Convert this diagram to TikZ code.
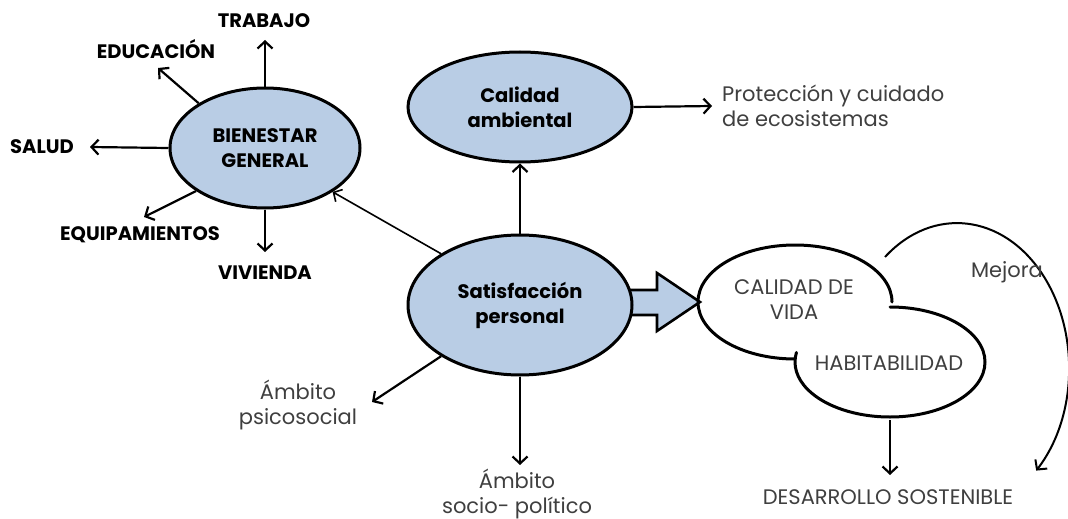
\documentclass[tikz,border=0pt]{standalone}
\usepackage{fontspec}
\setmainfont{Poppins}
\usetikzlibrary{arrows.meta,shapes.geometric}
\definecolor{ellblue}{HTML}{B9CDE5}
\definecolor{txtgray}{HTML}{3F3F3F}
\begin{document}
\begin{tikzpicture}[x=1pt,y=1pt,
  ell/.style={ellipse, draw, line width=3pt, fill=ellblue, inner sep=0pt, align=center, font=\bfseries\fontsize{19.5}{25}\selectfont},
  lbl/.style={inner sep=0pt, align=center, font=\bfseries\fontsize{19.5}{24}\selectfont},
  gtxt/.style={inner sep=0pt, align=center, text=txtgray, font=\fontsize{21}{25}\selectfont},
  arr/.style={line width=2.2pt, -{Straight Barb[length=7pt,width=15pt]}},
  thinarr/.style={line width=1.6pt, -{Straight Barb[length=6.5pt,width=14pt]}},
  cloudline/.style={line width=3pt, line cap=round}
]
\useasboundingbox (0,0) rectangle (1068,-519);
\fill[white] (0,0) rectangle (1068,-519);

% block arrow (drawn first so the ellipse covers its base)
\draw[fill=ellblue, line width=2.6pt, line join=miter]
  (610,-290) -- (657,-290) -- (657,-273) -- (700,-302) -- (657,-331) -- (657,-315) -- (610,-315) -- cycle;

% main ellipses
\node[ell, minimum width=190pt, minimum height=120pt] (bg) at (265,-148) {BIENESTAR\\GENERAL};
\node[ell, minimum width=224pt, minimum height=110pt] (ca) at (520,-107) {Calidad\\ambiental};
\node[ell, minimum width=224pt, minimum height=140pt] (sp) at (520,-305) {Satisfacción\\personal};

% labels around Bienestar general
\node[lbl] (trab) at (264,-21) {TRABAJO};
\node[lbl] (edu) at (156,-49) {EDUCACIÓN};
\node[lbl] (sal) at (42,-147) {SALUD};
\node[lbl] (equ) at (140,-235) {EQUIPAMIENTOS};
\node[lbl] (viv) at (265,-273) {VIVIENDA};

\coordinate (tTrab) at (265,-40);
\coordinate (tEdu) at (158,-68);
\coordinate (tSal) at (90,-147);
\coordinate (tEqu) at (144,-217);
\coordinate (tViv) at (265,-252);

\draw[arr] (bg.90) -- (tTrab);
\draw[arr] (bg.146) -- (tEdu);
\draw[arr] (bg.180) -- (tSal);
\draw[arr] (bg.212) -- (tEqu);
\draw[arr] (bg.270) -- (tViv);

% from satisfaccion personal
\draw[arr] (sp.90) -- (ca.270);
\draw[thinarr] (sp.147) -- (bg.-33);

\node[gtxt] (psi) at (298,-405) {Ámbito\\psicosocial};
\node[gtxt] (soc) at (517,-494) {Ámbito\\socio- político};
\coordinate (tPsi) at (372,-402);
\coordinate (tSoc) at (520,-465);
\draw[arr] (sp.213) -- (tPsi);
\draw[arr] (sp.270) -- (tSoc);

% calidad ambiental -> proteccion
\node[gtxt, align=left, anchor=west] (pro) at (722,-105.5) {Protección y cuidado\\de ecosistemas};
\coordinate (tPro) at (712,-106);
\draw[arr] (ca.0) -- (tPro);

% cloud: calidad de vida / habitabilidad
\draw[cloudline] (892,-302) arc[start angle=0, end angle=270, x radius=97, y radius=57];
\draw[cloudline] (890,-307) arc[start angle=90, end angle=-190, x radius=95, y radius=55];
\node[gtxt] (cdv) at (794,-300) {CALIDAD DE\\VIDA};
\node[gtxt] (hab) at (889,-363) {HABITABILIDAD};
\node[gtxt] (des) at (888,-497) {DESARROLLO SOSTENIBLE};
\coordinate (hbot) at (890,-420);
\coordinate (tDes) at (890,-475);
\draw[arr] (hbot) -- (tDes);

% mejora loop
\draw[line width=2pt, -{Straight Barb[length=7pt,width=15pt]}]
  (885,-257) arc[start angle=130, end angle=-45, x radius=112, y radius=145];
\node[gtxt] (mej) at (1007,-272) {Mejora};
\end{tikzpicture}
\end{document}
